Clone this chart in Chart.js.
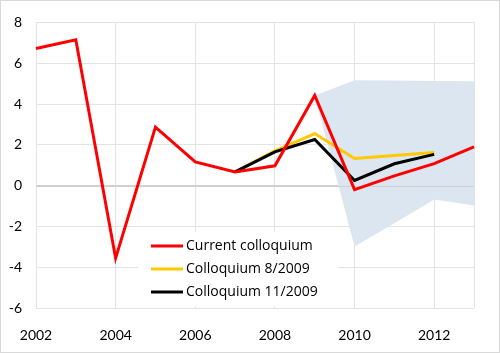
<!DOCTYPE html>
<html>
<head>
<meta charset="utf-8">
<script src="https://cdn.jsdelivr.net/npm/chart.js@4.4.0/dist/chart.umd.min.js"></script>
<style>
  body { margin: 0; background: #fff; }
  #wrap { position: relative; width: 500px; height: 353px; }
  #myChart { position: absolute; left: 0; top: 0; }
  #frame { position: absolute; left: 0; top: 0; width: 500px; height: 353px; box-sizing: border-box; border: 1px solid #d9d9d9; pointer-events: none; }
</style>
</head>
<body>
<div id="wrap">
  <canvas id="myChart" width="500" height="353"></canvas>
  <div id="frame"></div>
</div>
<script>
const years = ['2002', '2003', '2004', '2005', '2006', '2007', '2008', '2009', '2010', '2011', '2012', '2013'];
const yTicks = [-6, -4, -2, 0, 2, 4, 6, 8];

const current = [6.72, 7.15, -3.56, 2.87, 1.16, 0.67, 0.97, 4.42, -0.2, 0.48, 1.08, 1.9];
const colloquiumAug = [null, null, null, null, null, 0.67, 1.7, 2.55, 1.33, 1.47, 1.62, null];
const colloquiumNov = [null, null, null, null, null, 0.67, 1.65, 2.26, 0.25, 1.07, 1.53, null];
const bandUpper = [null, null, null, null, null, null, null, 4.42, 5.17, 5.15, 5.13, 5.12];
const bandLower = [null, null, null, null, null, null, null, 4.42, -2.98, -1.85, -0.68, -0.98];

const fontFamily = 'Lato, "Open Sans", sans-serif';
const legendFont = '14px "Open Sans", sans-serif';

// white legend box drawn inside the plot, like the original
const legendBox = {
  id: 'legendBox',
  beforeDatasetsDraw(chart) {
    const ctx = chart.ctx;
    ctx.save();
    ctx.fillStyle = '#ffffff';
    ctx.fillRect(138, 232, 200, 74);
    ctx.restore();
  },
  afterDatasetDraw(chart, args) {
    // zero axis line shows over the band
    if (args.index !== 3) return;
    const ctx = chart.ctx;
    const y0 = chart.scales.y.getPixelForValue(0);
    ctx.save();
    ctx.strokeStyle = '#d0d0d0';
    ctx.lineWidth = 1;
    ctx.beginPath();
    ctx.moveTo(chart.chartArea.left, Math.round(y0) + 0.5);
    ctx.lineTo(chart.chartArea.right, Math.round(y0) + 0.5);
    ctx.stroke();
    ctx.restore();
  },
  afterDraw(chart) {
    const ctx = chart.ctx;
    ctx.save();
    ctx.font = legendFont;
    ctx.textBaseline = 'middle';
    ctx.fillStyle = '#000';
    for (let i = 0; i < 3; i++) {
      const ds = chart.data.datasets[i];
      const y = 246 + i * 23;
      ctx.strokeStyle = ds.borderColor;
      ctx.lineWidth = 3;
      ctx.beginPath();
      ctx.moveTo(151, y);
      ctx.lineTo(183, y);
      ctx.stroke();
      ctx.fillText(ds.label, 186, y);
    }
    ctx.restore();
  }
};

const ctx = document.getElementById('myChart').getContext('2d');
const myChart = new Chart(ctx, {
  type: 'line',
  data: {
    labels: years,
    datasets: [
      { label: 'Current colloquium', data: current, borderColor: '#ff0000', borderWidth: 3, pointRadius: 0, tension: 0, fill: false, order: 1 },
      { label: 'Colloquium 8/2009', data: colloquiumAug, borderColor: '#ffc800', borderWidth: 3, pointRadius: 0, tension: 0, fill: false, order: 3 },
      { label: 'Colloquium 11/2009', data: colloquiumNov, borderColor: '#000000', borderWidth: 3, pointRadius: 0, tension: 0, fill: false, order: 2 },
      { label: 'upper', data: bandUpper, borderColor: 'rgba(0,0,0,0)', borderWidth: 0, pointRadius: 0, tension: 0, fill: '+1', backgroundColor: '#dce6f0', order: 10 },
      { label: 'lower', data: bandLower, borderColor: 'rgba(0,0,0,0)', borderWidth: 0, pointRadius: 0, tension: 0, fill: false, order: 11 }
    ]
  },
  options: {
    responsive: false,
    animation: false,
    layout: { padding: { left: 0, right: 26, top: 21, bottom: 0 } },
    plugins: {
      legend: { display: false },
      tooltip: { enabled: false }
    },
    scales: {
      x: {
        type: 'category',
        offset: false,
        grid: {
          drawTicks: false,
          color: (c) => (c.index % 2 === 0 || c.index === years.length - 1) ? '#e3e3e3' : 'rgba(0,0,0,0)'
        },
        border: { display: false },
        ticks: {
          autoSkip: false,
          maxRotation: 0,
          padding: 19,
          color: '#000',
          font: { family: fontFamily, size: 14 },
          callback: (v, i) => (i % 2 === 0 && i < years.length - 1) ? years[i] : ''
        },
        afterFit: (axis) => { axis.height = 45; }
      },
      y: {
        min: -6,
        max: 8,
        afterBuildTicks: (axis) => { axis.ticks = yTicks.map(v => ({ value: v })); },
        grid: {
          drawTicks: false,
          color: (c) => c.tick && c.tick.value === 0 ? '#d0d0d0' : '#e3e3e3'
        },
        border: { display: false },
        ticks: {
          padding: 14,
          color: '#000',
          font: { family: fontFamily, size: 14 }
        },
        afterFit: (axis) => { axis.width = 36; }
      }
    }
  },
  plugins: [legendBox]
});
</script>
</body>
</html>
